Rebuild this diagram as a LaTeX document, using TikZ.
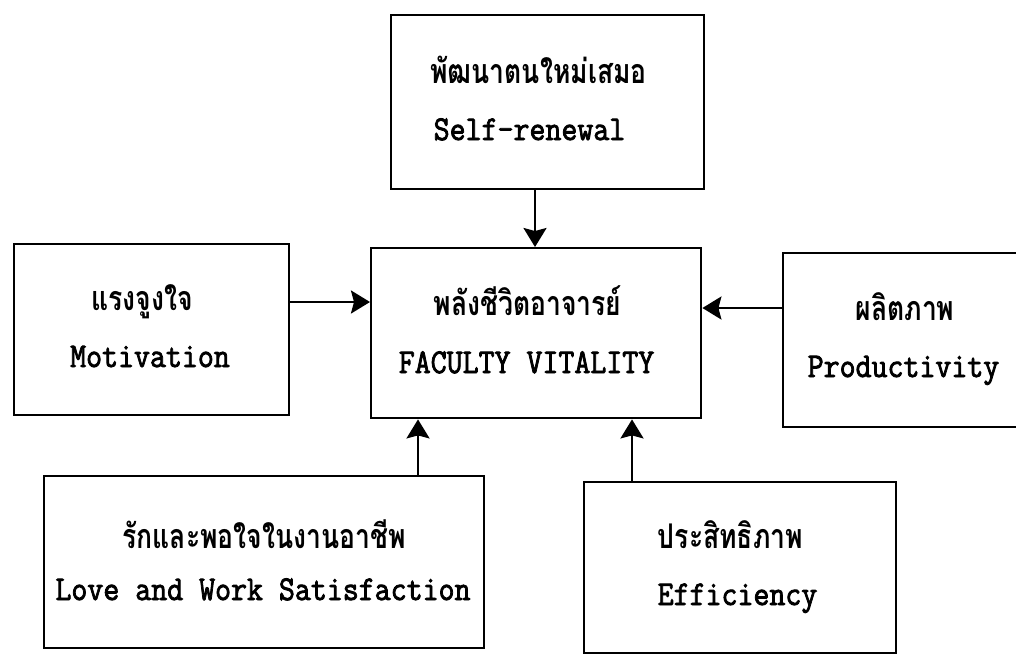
\documentclass[tikz,border=0pt]{standalone}
\usepackage{fontspec}
\newfontfamily\thaifont[Script=Thai]{Loma}
\newfontfamily\engfont[FakeBold=2.5]{Latin Modern Mono}
\usetikzlibrary{arrows.meta}
\newcommand\Th[1]{\scalebox{0.78}[1]{#1}}
\newcommand\En[1]{\scalebox{1}[1.12]{#1}}
\tikzset{
  box/.style={draw, line width=2.4pt, rectangle, inner sep=0pt, anchor=north west},
  th/.style={anchor=base, inner sep=0pt, font=\thaifont\bfseries\fontsize{34}{34}\selectfont},
  en/.style={anchor=base, inner sep=0pt, font=\engfont\fontsize{31}{31}\selectfont},
  arr/.style={line width=2.4pt, -{Stealth[length=19pt,width=23pt,inset=3pt]}}
}
\begin{document}
\begin{tikzpicture}[x=1pt,y=-1pt]
\useasboundingbox (0,0) rectangle (1016,654);
% boxes
\node[box, minimum width=313pt, minimum height=174pt] (self) at (390,14) {};
\node[box, minimum width=330pt, minimum height=170pt] (fv) at (370,247) {};
\node[box, minimum width=275pt, minimum height=171pt] (mot) at (13,243) {};
\node[box, minimum width=244pt, minimum height=174pt] (prod) at (782,252) {};
\node[box, minimum width=440pt, minimum height=172pt] (love) at (43,475) {};
\node[box, minimum width=312pt, minimum height=171pt] (eff) at (583,481) {};
% texts
\node[th] (selfth) at (538.5,83) {\Th{พัฒนาตนใหม่เสมอ}};
\node[en] (selfen) at (529.5,140) {\En{Self-renewal}};
\node[th] (fvth) at (527.5,315) {\Th{พลังชีวิตอาจารย์}};
\node[en] (fven) at (526.5,373) {\En{FACULTY VITALITY}};
\node[th] (motth) at (142,310) {\Th{แรงจูงใจ}};
\node[en] (moten) at (150,367) {\En{Motivation}};
\node[th] (prodth) at (905,320) {\Th{ผลิตภาพ}};
\node[en] (proden) at (903.5,377) {\En{Productivity}};
\node[th] (loveth) at (264,548) {\Th{รักและพอใจในงานอาชีพ}};
\node[en] (loveen) at (263,600) {\En{Love and Work Satisfaction}};
\node[th] (effth) at (730.5,548) {\Th{ประสิทธิภาพ}};
\node[en] (effen) at (737.5,605) {\En{Efficiency}};
% connectors
\coordinate (c1) at (535,0);
\coordinate (c2) at (0,302);
\coordinate (c3) at (0,308);
\coordinate (c4) at (418,0);
\coordinate (c5) at (632,0);
\draw[arr] (self.south -| c1) -- (fv.north -| c1);
\draw[arr] (mot.east |- c2) -- (fv.west |- c2);
\draw[arr] (prod.west |- c3) -- (fv.east |- c3);
\draw[arr] (love.north -| c4) -- (fv.south -| c4);
\draw[arr] (eff.north -| c5) -- (fv.south -| c5);
\end{tikzpicture}
\end{document}
